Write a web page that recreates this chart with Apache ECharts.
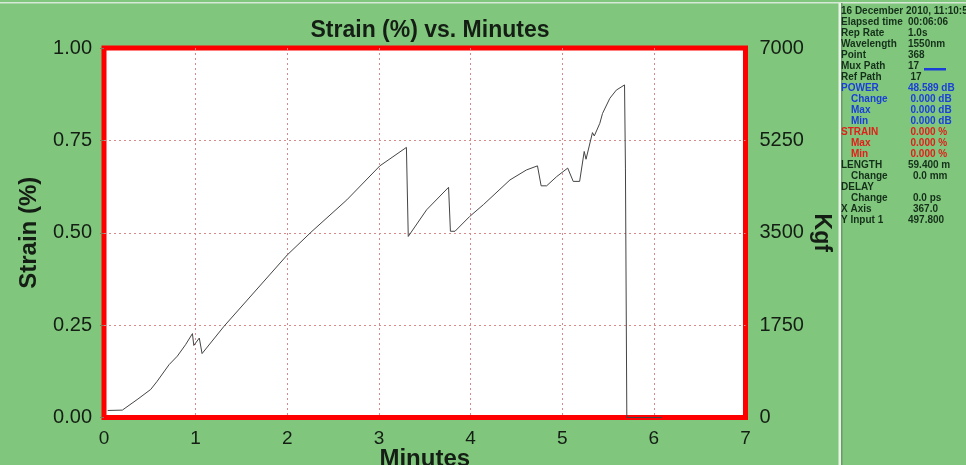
<!DOCTYPE html>
<html>
<head>
<meta charset="utf-8">
<script src="https://cdn.jsdelivr.net/npm/echarts@6/dist/echarts.min.js"></script>
<style>
  html, body { margin:0; padding:0; background:#80c77d; }
  #chart { width:966px; height:465px; }
</style>
</head>
<body>
<div id="chart"></div>
<script>
// strain trace (minutes, strain %)
const minutes = [0.04, 0.20, 0.37, 0.51, 0.58, 0.71, 0.80, 0.89, 0.965, 0.98, 1.04, 1.07, 1.31, 2.00, 2.27, 2.65, 3.01, 3.30,
  3.32, 3.52, 3.76, 3.78, 3.83, 3.99, 4.14, 4.43, 4.61, 4.73, 4.77, 4.83, 4.94, 5.06, 5.12, 5.19,
  5.24, 5.26, 5.33, 5.35, 5.41, 5.44, 5.52, 5.59, 5.68, 5.69, 5.69, 5.705, 6.09];
const strain = [0.019, 0.020, 0.050, 0.076, 0.098, 0.143, 0.166, 0.197, 0.227, 0.195, 0.215, 0.173, 0.247, 0.440, 0.504, 0.589, 0.681, 0.731,
  0.490, 0.562, 0.623, 0.504, 0.504, 0.544, 0.576, 0.643, 0.670, 0.681, 0.627, 0.627, 0.652, 0.675, 0.639, 0.639,
  0.720, 0.699, 0.771, 0.762, 0.796, 0.823, 0.864, 0.886, 0.900, 0.900, 0.675, 0.0, 0.0];

const xTicks = [0, 7, 1];
const strainTicks = [0, 1, 0.25];
const kgfTicks = [0, 7000, 1750];

// side panel readout
const panelLabels = ['16 December 2010, 11:10:5', 'Elapsed time', 'Rep Rate', 'Wavelength', 'Point', 'Mux Path', 'Ref Path',
  'POWER', ' Change', ' Max', ' Min', 'STRAIN', ' Max', ' Min', 'LENGTH', ' Change', 'DELAY', ' Change', 'X Axis', 'Y Input 1'];
const panelValues = ['', '00:06:06', '1.0s', '1550nm', '368', '17', ' 17',
  '48.589 dB', ' 0.000 dB', ' 0.000 dB', ' 0.000 dB', ' 0.000 %', ' 0.000 %', ' 0.000 %', '59.400 m', '  0.0 mm', '', '  0.0 ps', '  367.0', '497.800'];
const panelColors = ['#15301a', '#15301a', '#15301a', '#15301a', '#15301a', '#15301a', '#15301a',
  '#1a3fd8', '#1a3fd8', '#1a3fd8', '#1a3fd8', '#e0201a', '#e0201a', '#e0201a', '#15301a', '#15301a', '#15301a', '#15301a', '#15301a', '#15301a'];

const myChart = echarts.init(document.getElementById('chart'));
const font = 'Liberation Sans';
const ink = '#141e14';
const gridLine = { show: true, showMinLine: false, showMaxLine: false, lineStyle: { color: '#d88a8a', type: [2, 3], width: 1 } };

const panel = [];
panelLabels.forEach((t, i) => {
  const y = 11.7 + i * 10.97;
  const indent = t.startsWith(' ');
  panel.push({ type:'text', x: indent ? 851 : 841, y, style:{ text:t.trim(), fill:panelColors[i], font:'bold 10px ' + font, textVerticalAlign:'middle' } });
  if(panelValues[i]){
    const off = (panelValues[i].match(/^ */)[0].length) * 2.5;
    panel.push({ type:'text', x: 908 + off, y, style:{ text:panelValues[i].trim(), fill:panelColors[i], font:'bold 10px ' + font, textVerticalAlign:'middle' } });
  }
});

const option = {
  backgroundColor: '#80c77d',
  animation: false,
  title: {
    text: 'Strain (%) vs. Minutes',
    left: 425, top: 14, textAlign: 'center',
    textStyle: { fontFamily: font, fontSize: 23, fontWeight: 'bold', color: ink }
  },
  grid: {
    left: 104, right: 220.5, top: 48, bottom: 47.5, outerBoundsMode: 'none',
    show: true, backgroundColor: '#fff', borderColor: '#ff0000', borderWidth: 5
  },
  xAxis: {
    type: 'value', min: xTicks[0], max: xTicks[1], interval: xTicks[2],
    name: 'Minutes', nameLocation: 'middle', nameGap: 30, nameMoveOverlap: false,
    nameTextStyle: { fontFamily: font, fontSize: 24, fontWeight: 'bold', color: ink },
    axisLine: { show: false },
    axisTick: { show: false },
    axisLabel: { fontFamily: font, fontSize: 19, color: ink, margin: 12 },
    splitLine: gridLine
  },
  yAxis: [
    {
      type: 'value', min: strainTicks[0], max: strainTicks[1], interval: strainTicks[2],
      name: 'Strain (%)', nameLocation: 'middle', nameGap: 63, nameMoveOverlap: false,
      nameTextStyle: { fontFamily: font, fontSize: 24, fontWeight: 'bold', color: ink },
      axisLine: { show: false },
      axisTick: { show: true, length: 4, lineStyle: { color: '#8a7a5a' } },
      axisLabel: { fontFamily: font, fontSize: 20, color: ink, margin: 12, formatter: v => v.toFixed(2) },
      splitLine: gridLine
    },
    {
      type: 'value', position: 'right', min: kgfTicks[0], max: kgfTicks[1], interval: kgfTicks[2],
      name: 'Kgf', nameLocation: 'middle', nameGap: 64, nameRotate: -90, nameMoveOverlap: false,
      nameTextStyle: { fontFamily: font, fontSize: 23, fontWeight: 'bold', color: ink },
      axisLine: { show: false },
      axisTick: { show: false },
      axisLabel: { fontFamily: font, fontSize: 20, color: ink, margin: 14, formatter: v => String(v) },
      splitLine: { show: false }
    }
  ],
  series: [{
    type: 'line', yAxisIndex: 0, showSymbol: false, z: 3,
    data: minutes.map((m, i) => [m, strain[i]]),
    lineStyle: { color: '#444', width: 1 }
  }],
  graphic: [
    { type:'rect', shape:{ x:0, y:2, width:966, height:1.5 }, style:{ fill:'#d8e8d8' } },
    { type:'rect', shape:{ x:838.5, y:3, width:2.5, height:462 }, style:{ fill:'#e8f4e6' } },
    { type:'rect', shape:{ x:841, y:3, width:1.5, height:462 }, style:{ fill:'#6a9a68' } },
    { type:'rect', shape:{ x:924, y:68, width:22, height:2.5 }, style:{ fill:'#1a3fd8' } }
  ].concat(panel)
};

myChart.setOption(option);
</script>
</body>
</html>
